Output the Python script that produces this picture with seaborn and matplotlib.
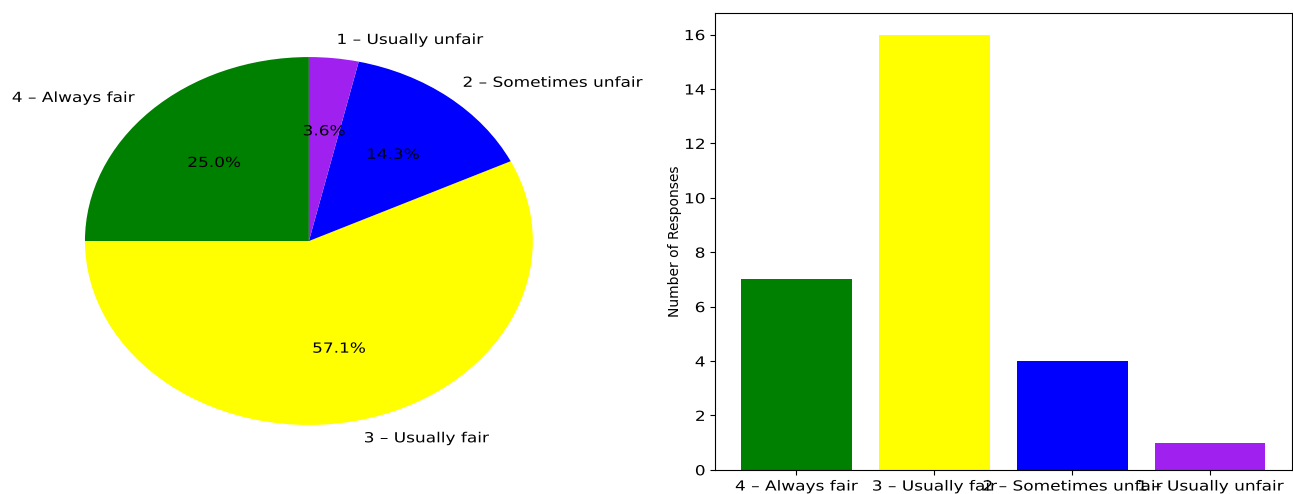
import matplotlib
matplotlib.use("Agg")
import matplotlib.pyplot as plt
import pandas as pd
import seaborn as sns
from matplotlib.patheffects import AbstractPathEffect
from matplotlib.transforms import Affine2D

categories = ["4 – Always fair", "3 – Usually fair", "2 – Sometimes unfair", "1 – Usually unfair"]
counts = [7, 16, 4, 1]
colors = ["green", "yellow", "blue", "#a020f0"]

df = pd.DataFrame({"response": categories, "count": counts})


# the reference image is stretched sideways, so text glyphs come out wider
class Stretch(AbstractPathEffect):
    def __init__(self, sx, anchor):
        super().__init__()
        self.sx = sx
        self.anchor = anchor

    def draw_path(self, renderer, gc, tpath, affine, rgbFace=None):
        w = tpath.get_extents().x1 * self.anchor
        t = Affine2D().translate(-w, 0).scale(self.sx, 1).translate(w, 0)
        renderer.draw_path(gc, tpath, t + affine, rgbFace)


def widen(texts, sx=1.22):
    for t in texts:
        anchor = {"left": 0, "center": 0.5, "right": 1}[t.get_ha()]
        t.set_path_effects([Stretch(sx, anchor)])


fig = plt.figure(figsize=(12.93, 4.94), dpi=100)

# pie, stretched like the reference
ax_pie = fig.add_axes([0.0224, 0.0466, 0.433, 0.931])
wedges, labels, pcts = ax_pie.pie(df["count"], labels=df["response"], colors=colors,
                                  autopct="%1.1f%%", startangle=90)
ax_pie.set_aspect("auto")
ax_pie.set_xlim(-1.25, 1.25)
ax_pie.set_ylim(-1.25, 1.25)
widen(labels)
widen(pcts)

# bars
ax_bar = fig.add_axes([0.553, 0.049, 0.446, 0.925])
sns.barplot(data=df, x="response", y="count", hue="response", palette=colors,
            saturation=1, legend=False, width=0.8, ax=ax_bar)
ax_bar.set_xlim(-0.59, 3.59)
ax_bar.set_ylim(0, 16.8)
ax_bar.set_xlabel("")
ax_bar.set_ylabel("Number of Responses")
widen(ax_bar.get_xticklabels())
widen(ax_bar.get_yticklabels())

fig.savefig("out.png", dpi=100)
